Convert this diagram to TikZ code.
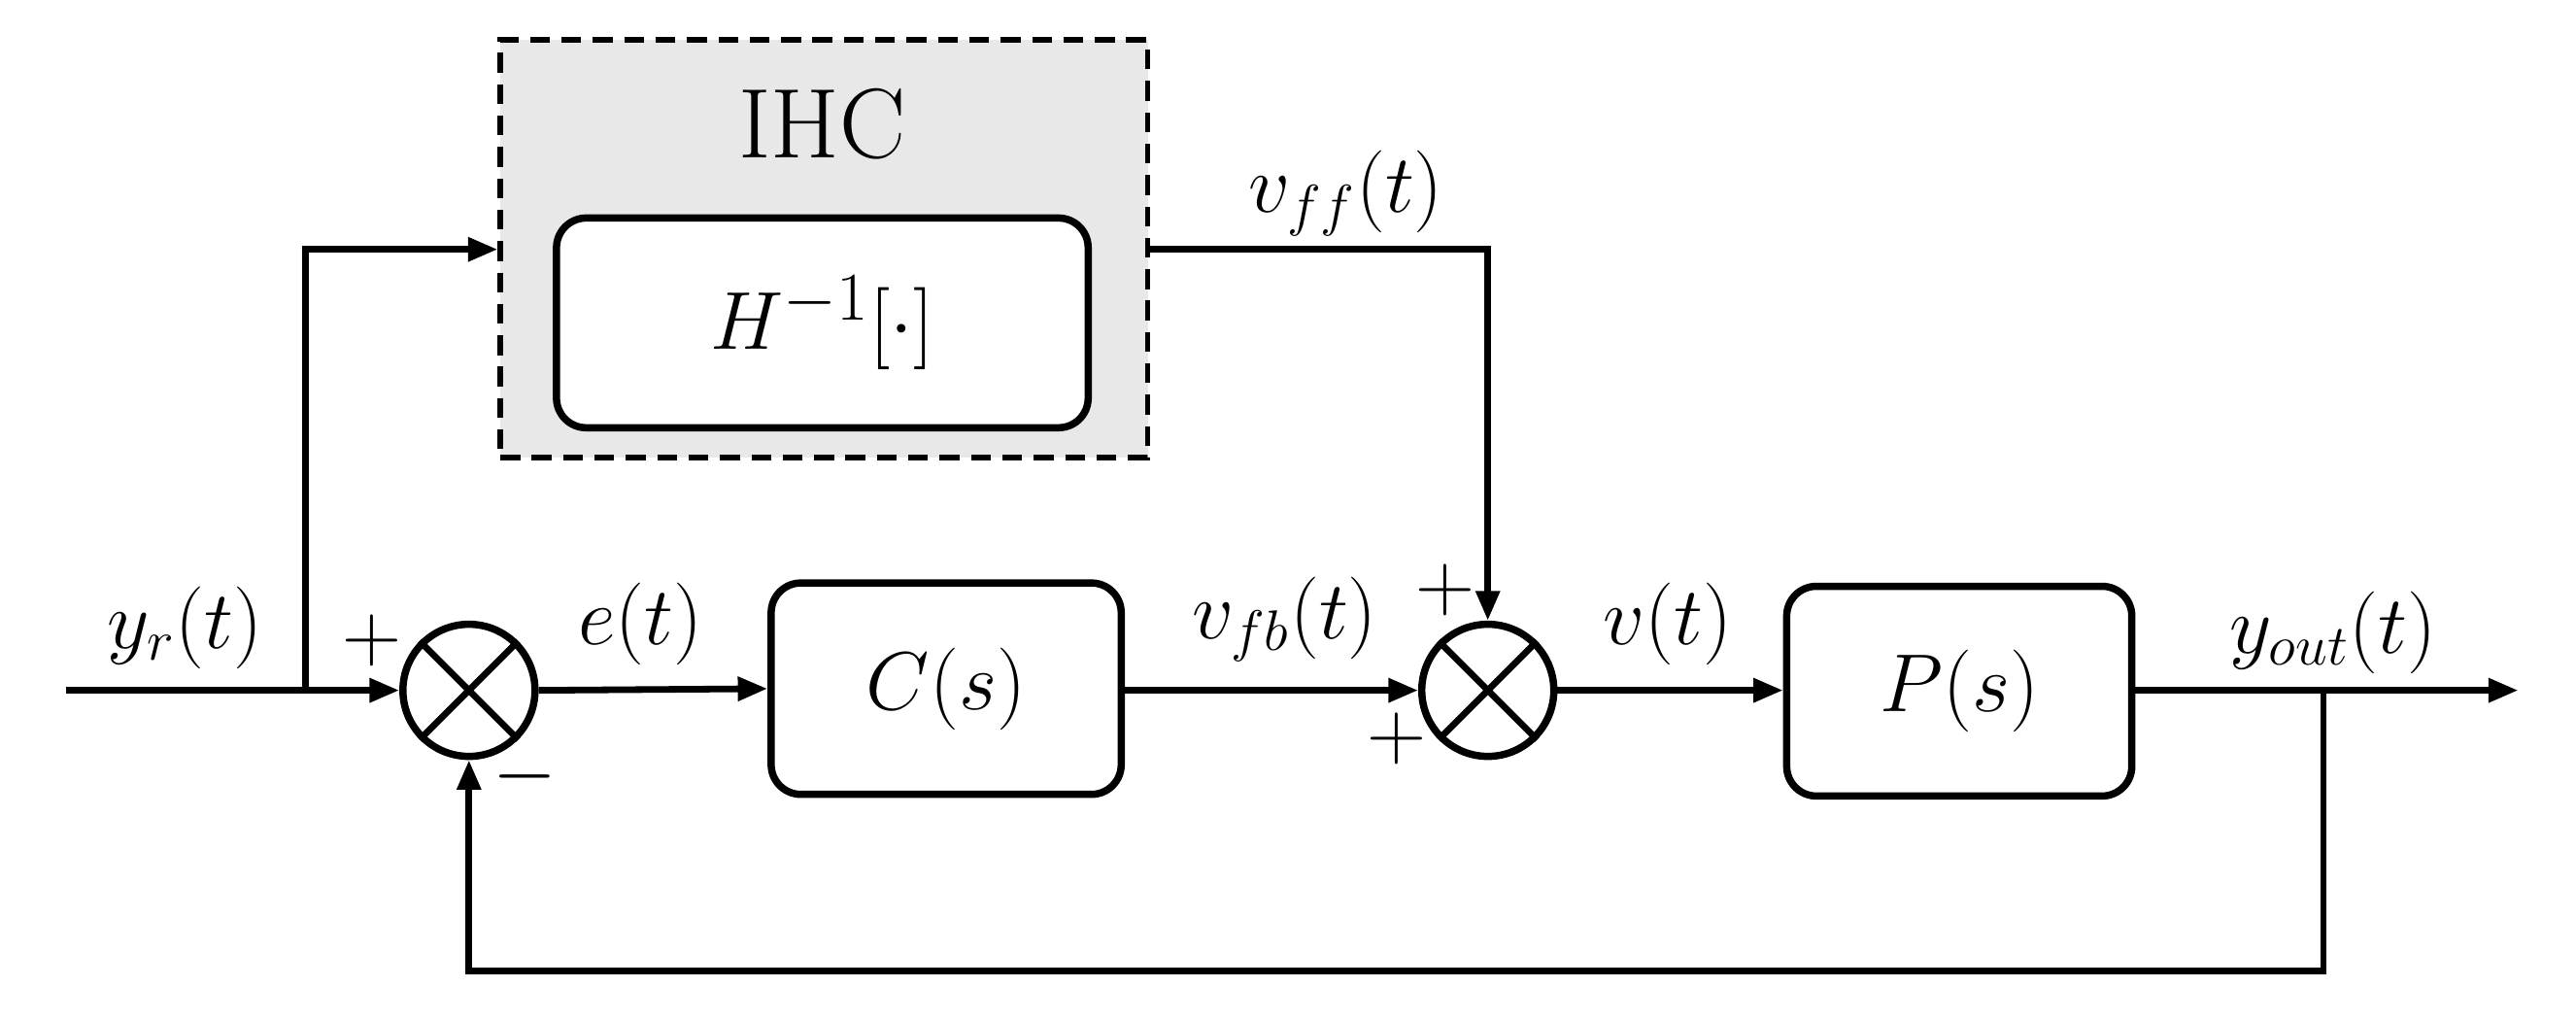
\documentclass[tikz,border=0pt]{standalone}
\usetikzlibrary{shapes.geometric,arrows.meta}
\begin{document}
\begin{tikzpicture}[x=0.5pt,y=-0.5pt,
  ln/.style={line width=2pt},
  ar/.style={ln,-{Triangle[length=9pt,width=7pt]}},
  blk/.style={draw,fill=white,line width=2.2pt,rounded corners=9pt,inner sep=0pt},
  sm/.style={draw,circle,line width=2.2pt,minimum size=40pt,inner sep=0pt},
  lb/.style={font=\fontsize{24}{28}\selectfont},
  bl/.style={font=\fontsize{29}{33}\selectfont}]
\useasboundingbox (0,0) rectangle (1560,618);
\node[draw,dash pattern=on 6pt off 3.5pt,line width=1.6pt,fill=gray!18,minimum width=196pt,minimum height=126.5pt,inner sep=0pt] (ihc) at (499,150.5) {};
\node[font=\fontsize{30}{34}\selectfont] (ihct) at (498,75) {IHC};
\node[blk,minimum width=161pt,minimum height=63.5pt,bl] (h) at (498,195.5) {$H^{-1}[\cdot]$};
\node[sm] (s1) at (284,418) {};
\draw[ln] (s1.north west)--(s1.south east) (s1.north east)--(s1.south west);
\node[blk,minimum width=106pt,minimum height=64pt,bl] (c) at (573,417) {$C(s)$};
\node[sm] (s2) at (901,418) {};
\draw[ln] (s2.north west)--(s2.south east) (s2.north east)--(s2.south west);
\node[blk,minimum width=104.5pt,minimum height=63.5pt,bl] (p) at (1186.5,418.5) {$P(s)$};
\coordinate (in) at (40,418);
\coordinate (br) at (185,418);
\coordinate (bt) at (185,151);
\coordinate (ff) at (901,151);
\coordinate (out) at (1525,418);
\coordinate (ob) at (1407,418);
\coordinate (obd) at (1407,588);
\coordinate (fbl) at (284,588);
\draw[ln] (in)--(br);
\draw[ar] (br)--(s1.west);
\draw[ar] (br)--(bt)--(ihc.west|-bt);
\draw[ar] (ihc.east|-ff)--(ff)--(s2.north);
\draw[ar] (s1.east)--(c.west);
\draw[ar] (c.east|-s2)--(s2.west);
\draw[ar] (s2.east)--(p.west|-s2);
\draw[ar] (p.east|-out)--(out);
\draw[ar] (ob)--(obd)--(fbl)--(s1.south);
\node[lb] at (112,380) {$y_r(t)$};
\node[lb] at (225,388) {$+$};
\node[lb] at (318,470) {$-$};
\node[lb] at (388,378) {$e(t)$};
\node[lb] at (778,375) {$v_{fb}(t)$};
\node[lb] at (875,357) {$+$};
\node[lb] at (846,447) {$+$};
\node[lb] at (1010,378) {$v(t)$};
\node[lb] at (1413,383) {$y_{out}(t)$};
\node[lb] at (815,117) {$v_{ff}(t)$};
\end{tikzpicture}
\end{document}
